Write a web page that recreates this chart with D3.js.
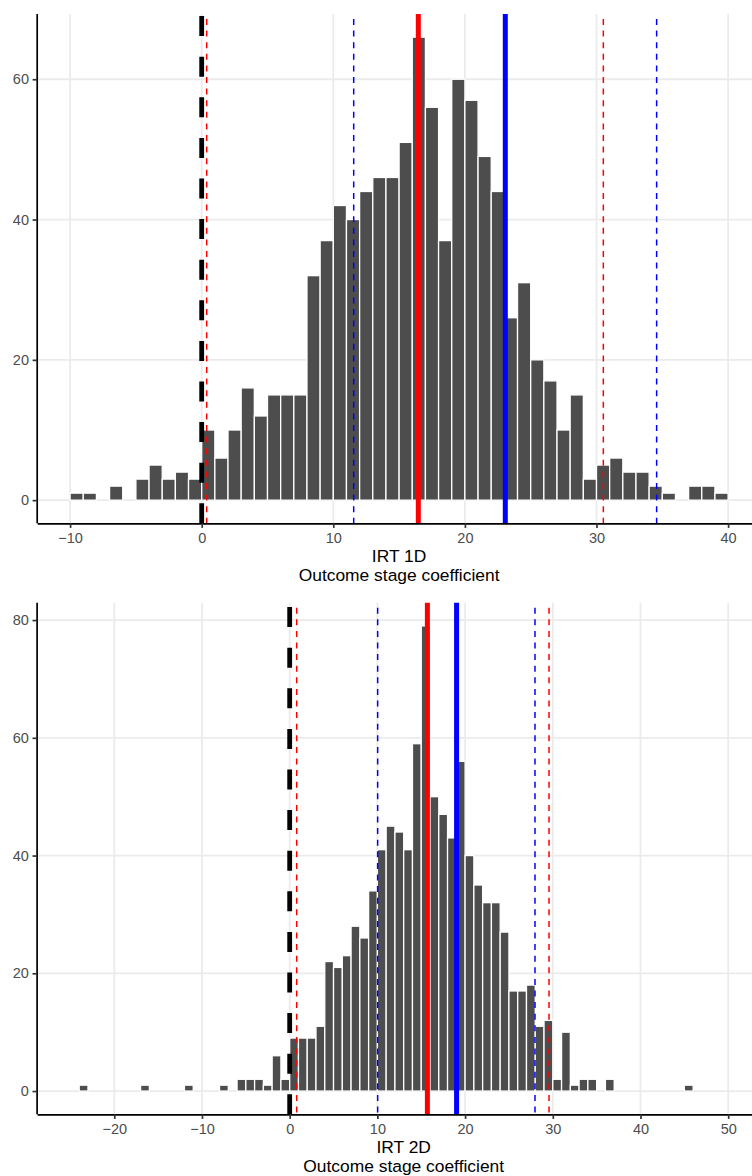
<!DOCTYPE html>
<html>
<head>
<meta charset="utf-8">
<script src="https://cdn.jsdelivr.net/npm/d3@7"></script>
<style>
  body { margin: 0; background: #fff; }
  svg { display: block; font-family: "Liberation Sans", Arial, Helvetica, sans-serif; }
</style>
</head>
<body>
<svg id="chart" width="752" height="1176"></svg>
<script>
// IRT 1D histogram, bins of width 1 (lower edges)
var binsTop = [-10, -9, -8, -7, -6, -5, -4, -3, -2, -1, 0, 1, 2, 3, 4, 5, 6, 7, 8, 9,
  10, 11, 12, 13, 14, 15, 16, 17, 18, 19, 20, 21, 22, 23, 24, 25, 26, 27, 28, 29,
  30, 31, 32, 33, 34, 35, 36, 37, 38, 39];
var countsTop = [1, 1, 0, 2, 0, 3, 5, 3, 4, 3, 10, 6, 10, 16, 12, 15, 15, 15, 32, 37,
  42, 40, 44, 46, 46, 51, 66, 56, 37, 60, 57, 49, 44, 26, 31, 20, 17, 10, 15, 3,
  5, 6, 4, 4, 2, 1, 0, 2, 2, 1];

// IRT 2D histogram
var binsBottom = [-25, -24, -23, -22, -21, -20, -19, -18, -17, -16, -15, -14, -13, -12, -11, -10,
  -9, -8, -7, -6, -5, -4, -3, -2, -1, 0, 1, 2, 3, 4, 5, 6, 7, 8, 9, 10, 11, 12, 13, 14,
  15, 16, 17, 18, 19, 20, 21, 22, 23, 24, 25, 26, 27, 28, 29, 30, 31, 32, 33, 34, 35, 36,
  37, 38, 39, 40, 41, 42, 43, 44, 45, 46, 47, 48, 49, 50];
var countsBottom = [0, 1, 0, 0, 0, 0, 0, 0, 1, 0, 0, 0, 0, 1, 0, 0,
  0, 1, 0, 2, 2, 2, 1, 6, 2, 9, 9, 9, 11, 22, 21, 23, 28, 26, 34, 41, 45, 44, 41, 59,
  79, 50, 47, 43, 56, 40, 35, 32, 32, 27, 17, 17, 18, 11, 12, 2, 10, 1, 2, 2, 0, 2,
  0, 0, 0, 0, 0, 0, 0, 0, 1, 0, 0, 0, 0, 0];

// reference lines
var zeroLine = 0;
var topRedMean = 16.46, topBlueMean = 23.07;
var topRedCI = [0.38, 30.52], topBlueCI = [11.55, 34.57];
var bottomRedMean = 15.7, bottomBlueMean = 19.03;
var bottomRedCI = [0.8, 29.57], bottomBlueCI = [10.03, 27.97];

var xTicksTop = [-10, 0, 10, 20, 30, 40];
var xTicksBottom = [-20, -10, 0, 10, 20, 30, 40, 50];
var yTicksTop = [0, 20, 40, 60];
var yTicksBottom = [0, 20, 40, 60, 80];

var svg = d3.select('#chart');

function fmt(d) {
	return d < 0 ? '\u2212' + (-d) : String(d);
}

function drawPanel(opt) {
	var bins = opt.bins, counts = opt.counts;
	var lo = d3.min(bins), hi = d3.max(bins) + 1;
	var span = hi - lo;
	var ymax = d3.max(counts);

	var x = d3.scaleLinear()
		.domain([lo - 0.05 * span, hi + 0.05 * span])
		.range([opt.left, opt.right]);
	var y = d3.scaleLinear()
		.domain([-0.05 * ymax, ymax * 1.05])
		.range([opt.bottom, opt.top]);

	var g = svg.append('g');

	// grid
	g.selectAll('.vgrid').data(opt.xTicks).enter().append('line')
		.attr('x1', function(d) { return x(d); })
		.attr('x2', function(d) { return x(d); })
		.attr('y1', opt.top).attr('y2', opt.bottom)
		.attr('stroke', '#ebebeb').attr('stroke-width', 1.8);
	g.selectAll('.hgrid').data(opt.yTicks).enter().append('line')
		.attr('x1', opt.left).attr('x2', opt.right)
		.attr('y1', function(d) { return y(d); })
		.attr('y2', function(d) { return y(d); })
		.attr('stroke', '#ebebeb').attr('stroke-width', 1.8);

	// bars
	g.selectAll('.bar').data(bins).enter().append('rect')
		.attr('x', function(d) { return x(d); })
		.attr('width', function(d) { return x(d + 1) - x(d); })
		.attr('y', function(d, i) { return y(counts[i]); })
		.attr('height', function(d, i) { return y(0) - y(counts[i]); })
		.attr('fill', '#4d4d4d')
		.attr('stroke', '#ffffff')
		.attr('stroke-width', 1.3);

	// vertical reference lines
	function vline(v, color, width, dash, fromBottom) {
		var l = g.append('line')
			.attr('x1', x(v)).attr('x2', x(v))
			.attr('y1', fromBottom ? opt.bottom : opt.top)
			.attr('y2', fromBottom ? opt.top : opt.bottom)
			.attr('stroke', color)
			.attr('stroke-width', width);
		if (dash) l.attr('stroke-dasharray', dash);
		return l;
	}
	vline(zeroLine, '#000000', 4.8, '20,20.6', true);
	opt.redCI.forEach(function(v) { vline(v, '#ff0000', 1.5, '6,5.6', false).attr('stroke-dashoffset', 6.6); });
	opt.blueCI.forEach(function(v) { vline(v, '#0000ff', 1.5, '6,5.6', false).attr('stroke-dashoffset', 6.6); });
	vline(opt.redMean, '#ff0000', 5, null, false);
	vline(opt.blueMean, '#0000ff', 5, null, false);

	// axes
	var xAxis = g.append('g')
		.attr('transform', 'translate(0,' + opt.bottom + ')')
		.call(d3.axisBottom(x).tickValues(opt.xTicks).tickFormat(fmt)
			.tickSize(4.6).tickSizeOuter(0).tickPadding(4.6));
	var yAxis = g.append('g')
		.attr('transform', 'translate(' + opt.left + ',0)')
		.call(d3.axisLeft(y).tickValues(opt.yTicks).tickFormat(fmt)
			.tickSize(4.6).tickSizeOuter(0).tickPadding(3.6));

	[xAxis, yAxis].forEach(function(a) {
		a.select('.domain').attr('stroke', '#000').attr('stroke-width', 1.7);
		a.selectAll('.tick line').attr('stroke', '#333333').attr('stroke-width', 1.7);
		a.selectAll('.tick text')
			.attr('fill', '#4d4d4d')
			.style('font-size', '14.5px')
			.style('font-family', '"Liberation Sans", Arial, sans-serif');
	});
	yAxis.select('.domain').attr('d', 'M0,' + opt.top + 'V' + opt.bottom);

	// axis title, two lines
	var cx = (opt.left + opt.right) / 2;
	g.append('text')
		.attr('x', cx).attr('y', opt.bottom + 38.5)
		.attr('text-anchor', 'middle')
		.attr('fill', '#000')
		.style('font-size', '17.4px')
		.text(opt.title);
	g.append('text')
		.attr('x', cx).attr('y', opt.bottom + 58)
		.attr('text-anchor', 'middle')
		.attr('fill', '#000')
		.style('font-size', '17.4px')
		.text('Outcome stage coefficient');
}

drawPanel({
	bins: binsTop, counts: countsTop,
	left: 37.2, right: 761, top: 14, bottom: 523.3,
	xTicks: xTicksTop, yTicks: yTicksTop,
	redMean: topRedMean, blueMean: topBlueMean,
	redCI: topRedCI, blueCI: topBlueCI,
	title: 'IRT 1D'
});

drawPanel({
	bins: binsBottom, counts: countsBottom,
	left: 37.1, right: 770.3, top: 602.7, bottom: 1114.3,
	xTicks: xTicksBottom, yTicks: yTicksBottom,
	redMean: bottomRedMean, blueMean: bottomBlueMean,
	redCI: bottomRedCI, blueCI: bottomBlueCI,
	title: 'IRT 2D'
});
</script>
</body>
</html>
